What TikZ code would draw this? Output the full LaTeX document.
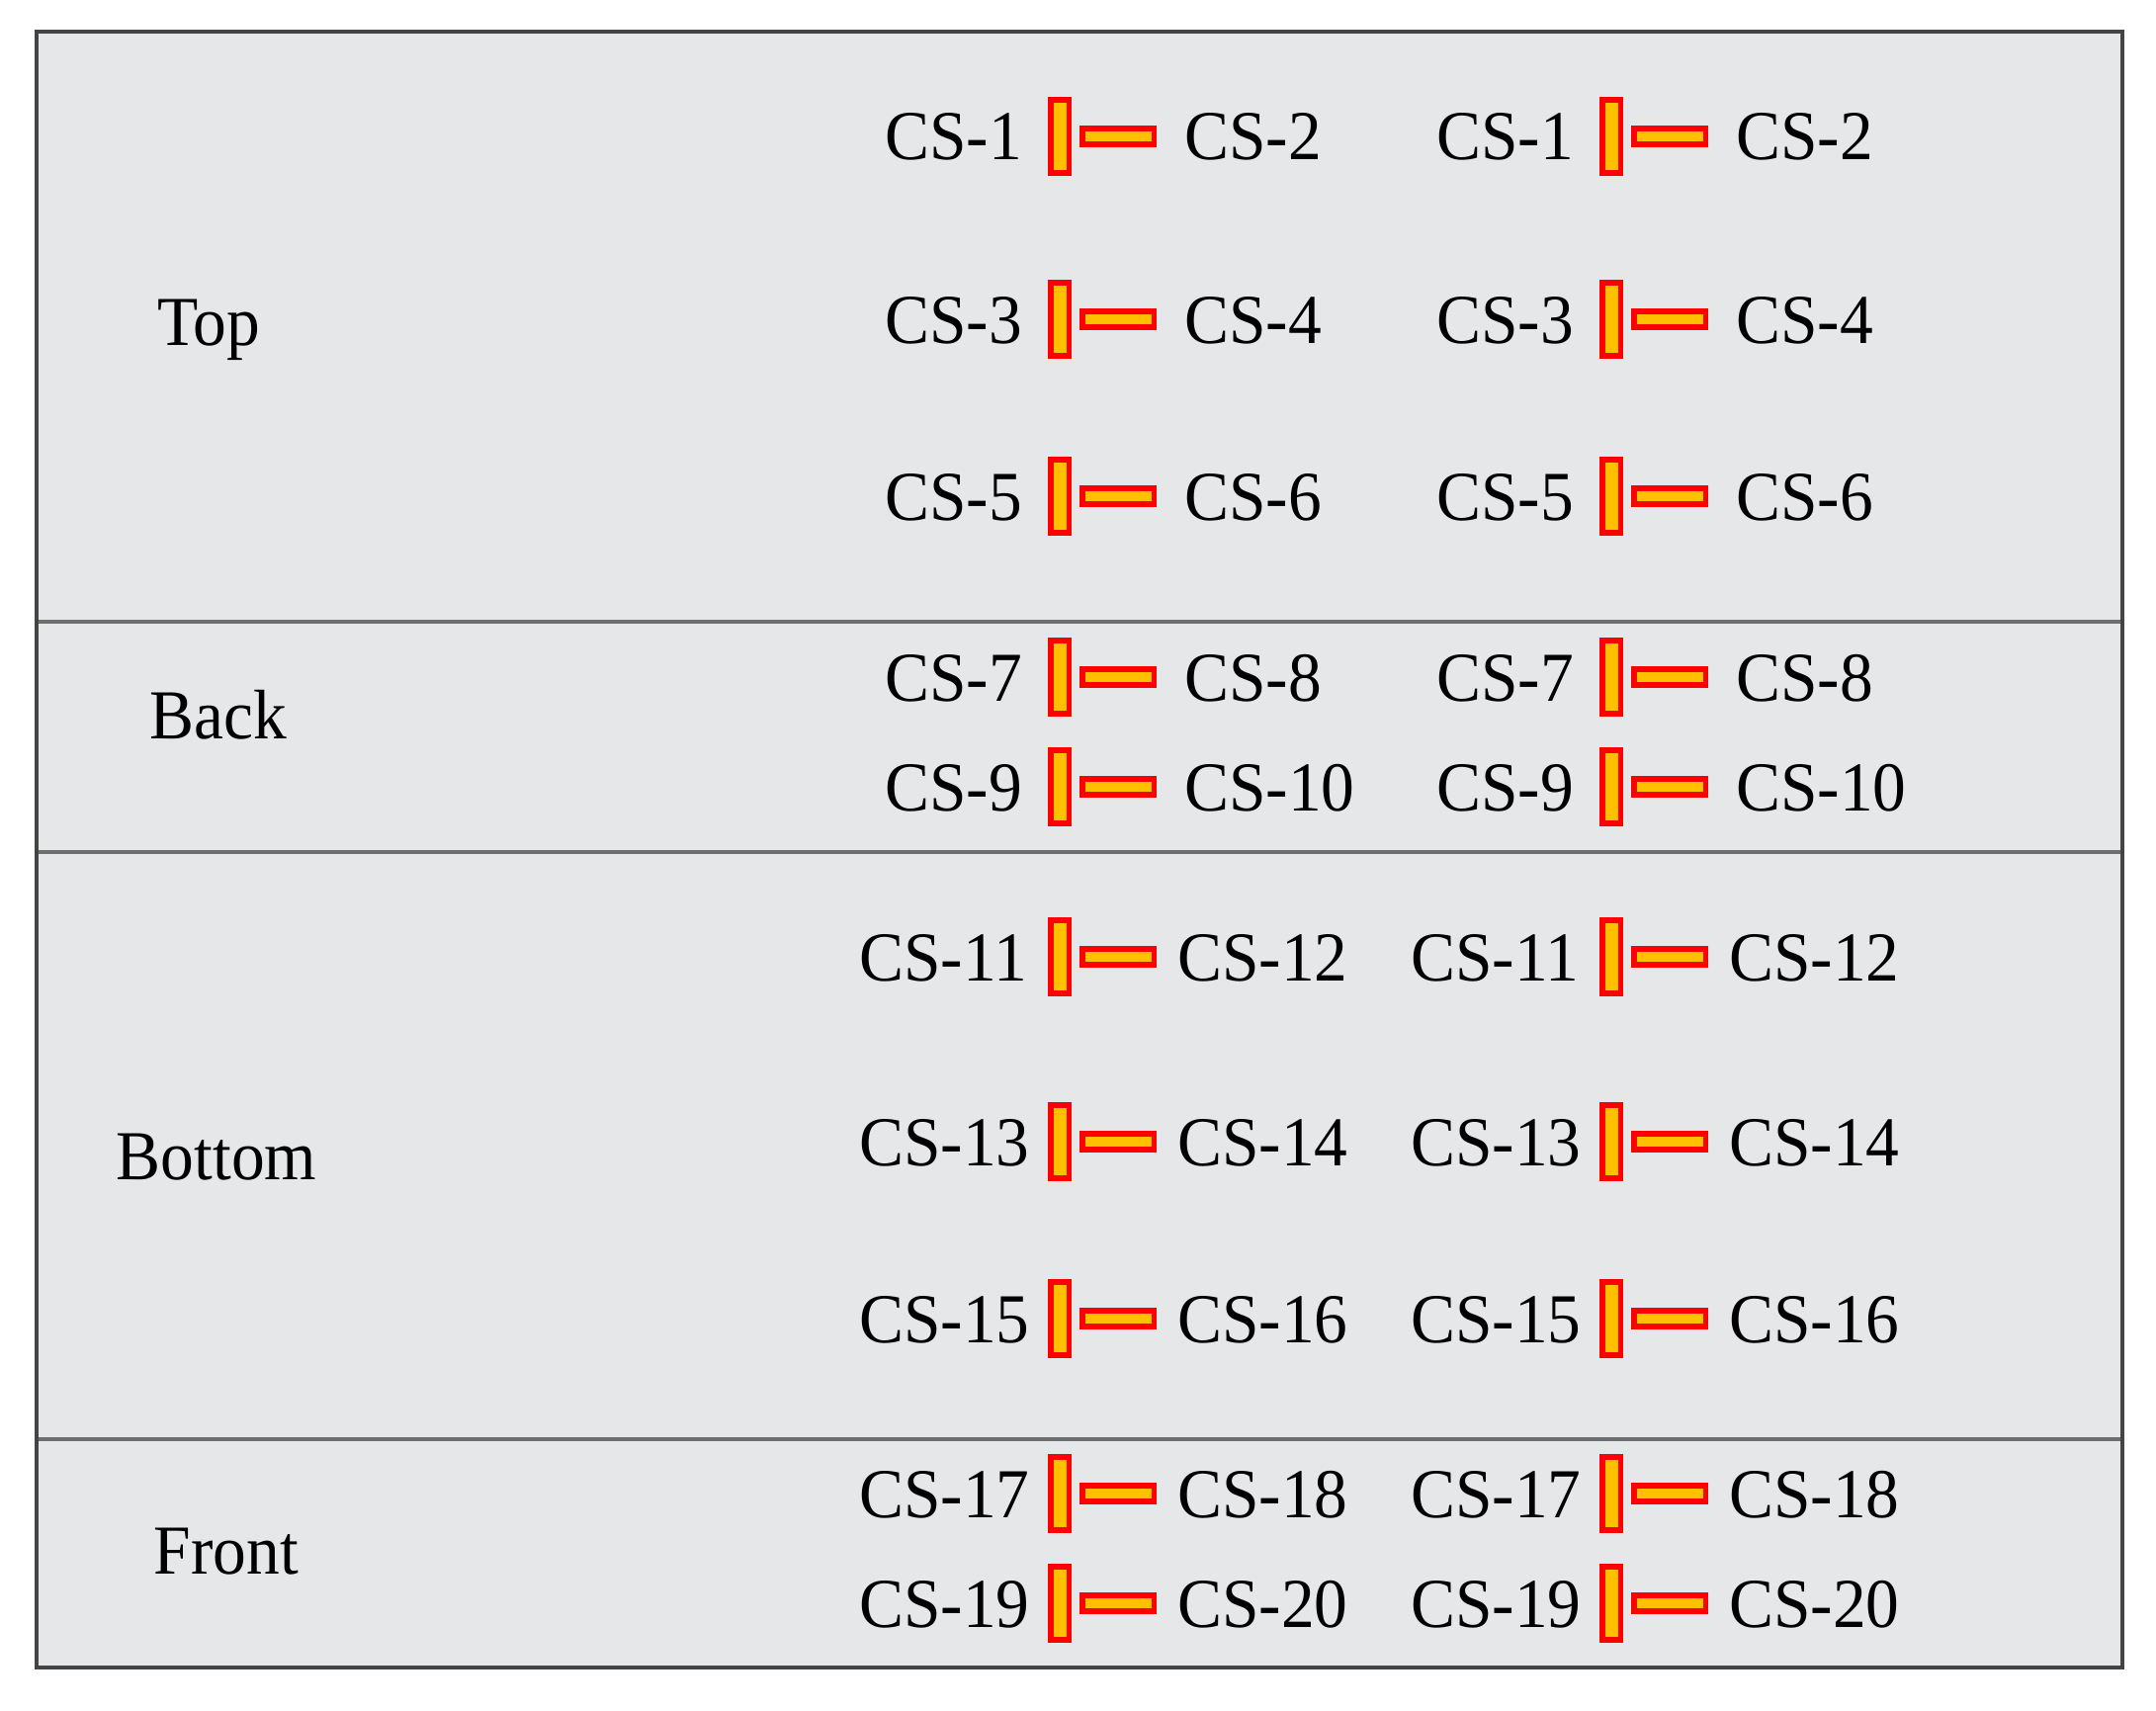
\documentclass[tikz,border=0pt]{standalone}
\usepackage{fontspec}
\setmainfont[FakeStretch=0.95]{Liberation Serif}
\usetikzlibrary{positioning}
\definecolor{panelgray}{HTML}{E6E7E9}
\definecolor{framegray}{HTML}{444444}
\definecolor{rulegray}{HTML}{6E6E6E}
\definecolor{gaugefill}{HTML}{FFC000}
\tikzset{
  panel/.style={fill=panelgray, draw=rulegray, line width=4},
  strip/.style={fill=gaugefill, draw=red, line width=5.5},
  cslabel/.style={inner sep=0, font=\fontsize{71}{80}\selectfont},
}

\begin{document}
\begin{tikzpicture}[x=1pt,y=-1pt]
\useasboundingbox (0,0) rectangle (2181,1731);
% the four faces
\draw[panel] (37,32) rectangle (2147,629);
\draw[panel] (37,629) rectangle (2147,862);
\draw[panel] (37,862) rectangle (2147,1456);
\draw[panel] (37,1456) rectangle (2147,1687);
\draw[framegray, line width=4] (37,32) rectangle (2147,1687);
\node[cslabel, anchor=base] (top) at (211,349) {Top};
\node[cslabel, anchor=base] (back) at (221,747) {Back};
\node[cslabel, anchor=base] (bottom) at (219,1193) {Bottom};
\node[cslabel, anchor=base] (front) at (229,1592) {Front};
% strain gauge pairs, two columns
\foreach\y/\a/\b/\lx/\rx in {138/1/2/895/1198, 323/3/4/895/1198, 502/5/6/895/1198,
  685/7/8/895/1198, 796/9/10/895/1198,
  968/11/12/869/1191, 1155/13/14/869/1191, 1334/15/16/869/1191,
  1511/17/18/869/1191, 1622/19/20/869/1191}
{
  \foreach\dx in {0,558}
  {
    \begin{scope}[xshift=\dx pt]
      \node[cslabel, anchor=base west] (cs\a-\dx) at (\lx,\y+24) {CS-\a};
      \draw[strip] (1062.75,\y-37) rectangle (1081.25,\y+37);
      \draw[strip] (1094.75,\y-8) rectangle (1167.25,\y+8);
      \node[cslabel, anchor=base west] (cs\b-\dx) at (\rx,\y+24) {CS-\b};
    \end{scope}
  }
}
\end{tikzpicture}
\end{document}
